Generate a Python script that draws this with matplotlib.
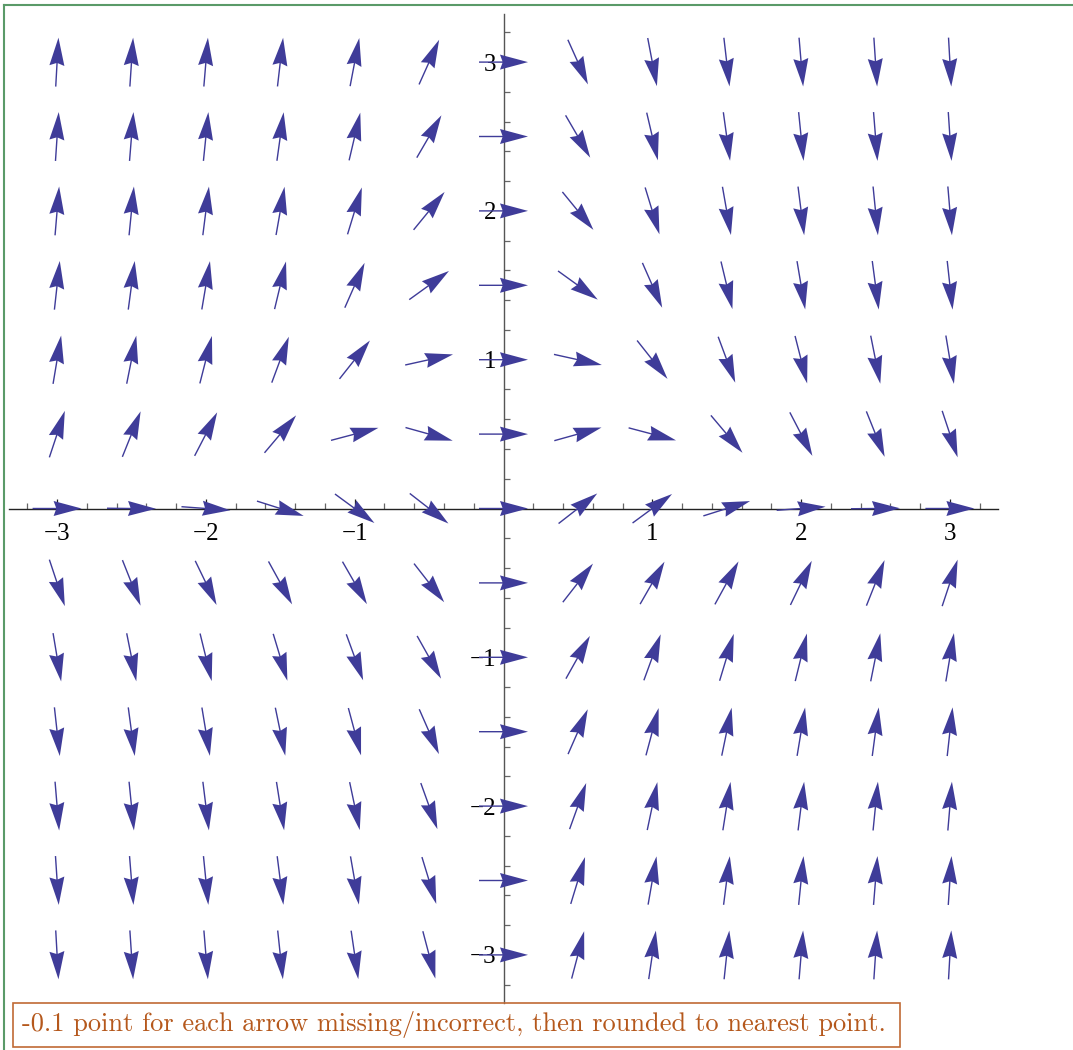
import numpy as np
import matplotlib
matplotlib.use("Agg")
import matplotlib.pyplot as plt
from matplotlib.lines import Line2D
from matplotlib.patches import Rectangle

# ---- data: grid of the direction field and arrow angles (degrees)
x_vals = [-3, -2.5, -2, -1.5, -1, -0.5, 0, 0.5, 1, 1.5, 2, 2.5, 3]
y_vals = [3, 2.5, 2, 1.5, 1, 0.5, 0, -0.5, -1, -1.5, -2, -2.5, -3]

ang_y3p0 = [86.8, 86.2, 85.2, 83.4, 79.2, 65.8, 0, -65.8, -79.2, -83.4, -85.2, -86.2, -86.8]
ang_y2p5 = [86.2, 85.4, 84.2, 82.1, 76.8, 59.8, 0, -59.8, -76.8, -82.1, -84.2, -85.4, -86.2]
ang_y2p0 = [85.2, 84.3, 82.8, 80.0, 73.0, 50.7, 0, -50.7, -73.0, -80.0, -82.8, -84.3, -85.2]
ang_y1p5 = [83.7, 82.4, 80.4, 76.5, 66.2, 35.8, 0, -35.8, -66.2, -76.5, -80.4, -82.4, -83.7]
ang_y1p0 = [80.5, 78.7, 75.7, 69.6, 51.6, 12.5, 0, -12.5, -51.6, -69.6, -75.7, -78.7, -80.5]
ang_y0p5 = [71.6, 68.1, 62.6, 49.8, 14.8, -15.6, 0, 15.6, -14.8, -49.8, -62.6, -68.1, -71.6]
ang_y0p0 = [0.0, -0.6, -4.2, -17.6, -36.3, -37.9, 0, 37.9, 36.3, 17.6, 4.2, 0.6, 0.0]
ang_ym0p5 = [-71.6, -68.3, -64.2, -61.2, -60.1, -52.0, 0, 52.0, 60.1, 61.2, 64.2, 68.3, 71.6]
ang_ym1p0 = [-80.5, -78.7, -76.2, -73.2, -69.9, -60.7, 0, 60.7, 69.9, 73.2, 76.2, 78.7, 80.5]
ang_ym1p5 = [-83.7, -82.4, -80.6, -78.3, -75.0, -66.3, 0, 66.3, 75.0, 78.3, 80.6, 82.4, 83.7]
ang_ym2p0 = [-85.2, -84.3, -82.9, -81.0, -78.1, -70.2, 0, 70.2, 78.1, 81.0, 82.9, 84.3, 85.2]
ang_ym2p5 = [-86.2, -85.4, -84.3, -82.7, -80.1, -73.0, 0, 73.0, 80.1, 82.7, 84.3, 85.4, 86.2]
ang_ym3p0 = [-86.8, -86.2, -85.3, -83.9, -81.6, -75.2, 0, 75.2, 81.6, 83.9, 85.3, 86.2, 86.8]

angle_rows = [ang_y3p0, ang_y2p5, ang_y2p0, ang_y1p5, ang_y1p0, ang_y0p5, ang_y0p0,
              ang_ym0p5, ang_ym1p0, ang_ym1p5, ang_ym2p0, ang_ym2p5, ang_ym3p0]

x_ticks = [-3, -2, -1, 1, 2, 3]
y_ticks = [-3, -2, -1, 1, 2, 3]
x_tick_labels = ["\u22123", "\u22122", "\u22121", "1", "2", "3"]
y_tick_labels = ["\u22123", "\u22122", "\u22121", "1", "2", "3"]
note_text = "-0.1 point for each arrow missing/incorrect, then rounded to nearest point."

# ---- figure geometry (pixels)
W, H = 1073, 1050
DPI = 100
fig = plt.figure(figsize=(W / DPI, H / DPI), dpi=DPI)

ppu = 148.8          # pixels per data unit
x0_px, y0_px = 503.5, 508.5
lim = 3.32
ax_left = x0_px - lim * ppu
ax_top = y0_px - lim * ppu
ax_w = 2 * lim * ppu
ax = fig.add_axes([ax_left / W, 1 - (ax_top + ax_w) / H, ax_w / W, ax_w / H])
ax.set_xlim(-lim, lim)
ax.set_ylim(-lim, lim)
ax.set_facecolor("none")

# axes through origin
for s in ["top", "right"]:
    ax.spines[s].set_visible(False)
ax.spines["left"].set_position(("data", 0))
ax.spines["bottom"].set_position(("data", 0))
ax.spines["left"].set_color("#555555")
ax.spines["bottom"].set_color("#222222")
ax.spines["left"].set_linewidth(1.0)
ax.spines["bottom"].set_linewidth(1.0)

ax.set_xticks(x_ticks)
ax.set_yticks(y_ticks)
ax.set_xticks(np.arange(-3.2, 3.21, 0.2), minor=True)
ax.set_yticks(np.arange(-3.2, 3.21, 0.2), minor=True)
ax.tick_params(axis="both", which="major", direction="in", length=7, width=0.9,
               color="#222222", labelbottom=False, labelleft=False)
ax.tick_params(axis="both", which="minor", direction="in", length=4.5, width=0.9, color="#666666")

# tick labels drawn as text at the tick positions
lab_fam = ["Liberation Serif", "DejaVu Serif"]
for t, s in zip(x_ticks, x_tick_labels):
    ax.annotate(s, (t, 0), xytext=(0, -22.5), textcoords="offset pixels", ha="center",
                va="center_baseline", fontsize=18, family=lab_fam, color="black", zorder=3)
for t, s in zip(y_ticks, y_tick_labels):
    ax.annotate(s, (0, t), xytext=(-7, 0), textcoords="offset pixels", ha="right",
                va="center_baseline", fontsize=18, family=lab_fam, color="black", zorder=3)

# ---- arrows
X, Y = np.meshgrid(x_vals, y_vals)
A = np.deg2rad(np.array(angle_rows))
L = 49.0 / ppu  # arrow length in data units
U = L * np.cos(A)
V = L * np.sin(A)
shaft_px = 1.4
sw = shaft_px / ppu
ax.quiver(X, Y, U, V, angles="xy", scale_units="xy", scale=1, pivot="mid",
          units="xy", width=sw, headwidth=15 / shaft_px, headlength=28 / shaft_px,
          headaxislength=25.5 / shaft_px, color="#3f3c99", zorder=5)

# ---- green frame (left and top edges)
def fx(px):
    return px / W

def fy(py):
    return 1 - py / H

green = "#5a9a68"
fig.add_artist(Line2D([fx(4), fx(4)], [fy(5), fy(H + 5)], color=green, lw=1.5))
fig.add_artist(Line2D([fx(4), fx(W + 5)], [fy(5), fy(5)], color=green, lw=1.5))

# ---- note box
box_col = "#c06a35"
fig.add_artist(Rectangle((fx(13), fy(1047)), fx(900) - fx(13), fy(1003) - fy(1047),
                         transform=fig.transFigure, fill=False, edgecolor=box_col, lw=1.2))
fig.text(fx(22), fy(1025), note_text, family=["cmr10", "DejaVu Serif"], fontsize=19.0,
         color="#b5581c", ha="left", va="center")

fig.savefig("out.png", dpi=DPI)
